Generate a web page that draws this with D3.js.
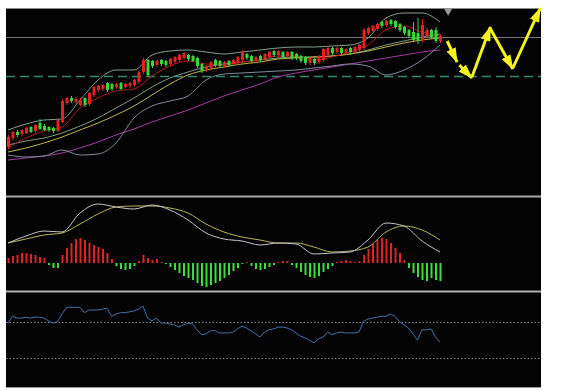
<!DOCTYPE html>
<html>
<head>
<meta charset="utf-8">
<title>K-line</title>
<style>
  body { margin: 0; background: #fff; }
  svg { display: block; }
</style>
</head>
<body>
<script src="https://cdn.jsdelivr.net/npm/d3@7"></script>
<script>
// daily candles (price units)
var opens  = [1229,1238,1244,1242,1243,1249,1245,1253,1250,1249,1248,1245,1254,1273,1278,1274,1271,1278,1272,1281,
              1286,1287,1293,1292,1289,1293,1289,1290,1291,1294,1304,1316,1315,1311,1316,1315,1312,1314,1316,1318,
              1321,1320,1318,1312,1306,1308,1316,1315,1310,1315,1312,1313,1316,1322,1320,1315,1320,1317,1319,1325,
              1321,1324,1320,1324,1322,1320,1319,1313,1317,1314,1316,1321,1328,1324,1328,1323,1328,1324,1326,1328,
              1343,1345,1347,1354,1351,1356,1355,1352,1349,1346,1344,1343,1336,1340,1346,1346,1335];
var closes = [1239,1244,1241,1246,1248,1244,1251,1247,1246,1246,1245,1256,1275,1278,1275,1277,1276,1271,1283,1289,
              1290,1291,1286,1287,1292,1287,1292,1293,1296,1304,1316,1301,1310,1315,1312,1311,1317,1319,1321,1323,
              1317,1315,1310,1305,1310,1314,1311,1310,1314,1311,1316,1319,1324,1318,1315,1319,1316,1322,1324,1321,
              1325,1319,1324,1318,1318,1315,1313,1318,1313,1320,1327,1328,1323,1328,1323,1327,1324,1329,1331,1346,
              1348,1350,1352,1350,1355,1352,1349,1346,1343,1340,1336,1335,1351,1346,1339,1335,1340];
var highs  = [1241,1245,1246,1247,1249,1250,1252,1257,1252,1250,1249,1257,1277,1279,1280,1279,1278,1279,1284,1290,
              1291,1292,1294,1293,1293,1294,1293,1294,1297,1305,1318,1317,1316,1316,1317,1316,1318,1320,1322,1324,
              1322,1321,1319,1313,1311,1315,1317,1316,1315,1316,1317,1320,1326,1323,1321,1320,1321,1323,1325,1326,
              1326,1325,1325,1325,1323,1321,1320,1319,1318,1321,1328,1329,1329,1329,1329,1328,1329,1330,1332,1348,
              1349,1351,1353,1355,1356,1357,1356,1353,1350,1347,1354,1358,1357,1348,1347,1349,1342];
var lows   = [1227,1236,1239,1240,1242,1243,1243,1246,1245,1244,1243,1244,1253,1271,1273,1272,1270,1269,1270,1279,
              1284,1285,1284,1285,1287,1286,1288,1288,1289,1292,1302,1299,1308,1309,1310,1309,1310,1312,1314,1316,
              1315,1314,1308,1303,1304,1306,1309,1308,1308,1309,1310,1311,1314,1316,1313,1313,1314,1315,1318,1319,
              1319,1318,1318,1316,1316,1313,1311,1311,1311,1312,1314,1319,1321,1322,1321,1321,1322,1322,1324,1326,
              1341,1343,1345,1348,1349,1350,1347,1344,1341,1338,1334,1332,1334,1338,1337,1333,1333];

// overlay lines, read every 4th candle
var maRed   = [1228,1238,1245,1249,1268,1278,1285,1287,1300,1310,1315,1312,1311,1314,1316,1320,1320,1316,1319,1324,1331,1346,1350,1344,1340];
var bollUp  = [1246,1252,1256,1257,1276,1296,1306,1306,1321,1325,1326,1324,1322,1324,1326,1328,1329,1329,1330,1331,1338,1358,1363,1363,1354];
var bollMid = [1231,1235,1238,1243,1250,1258,1268,1278,1289,1298,1304,1309,1312,1314,1316,1318,1319,1319,1320,1322,1326,1331,1335,1339,1342];
var bollLow = [1221,1219,1220,1226,1221,1222,1233,1258,1270,1275,1280,1296,1302,1303,1304,1305,1306,1308,1310,1312,1310,1301,1306,1316,1331];
var maYel   = [1224,1228,1233,1239,1246,1253,1261,1270,1281,1292,1301,1306,1309,1312,1314,1317,1318,1319,1320,1322,1325,1329,1333,1336,1338];
var maLong  = [1216,1218,1220,1223,1228,1234,1241,1247,1254,1260,1266,1273,1280,1286,1292,1299,1303,1306,1309,1312,1315,1318,1321,1324,1326];

var resistance = 1339, support = 1300;

// projected path: [candle index, price]
var forecast = [
  [[97.6,1335],[99.8,1314]],
  [[100.3,1311],[103.1,1298]],
  [[103.1,1299],[107.2,1349]],
  [[107.1,1348],[112.2,1307]],
  [[112.2,1308],[118.3,1368]]
];

// MACD
var macdHist = [5,7,8,10,10,9,8,6,5,-2,-5,-5,8,15,20,24,25,23,20,18,16,14,10,4,-3,-6,-7,-6,-3,2,
                8,5,3,4,1,-1,-4,-7,-10,-13,-15,-17,-20,-23,-24,-22,-20,-18,-15,-12,-8,-5,-1,1,-3,-6,-7,-6,-4,-2,
                1,2,2,-2,-5,-9,-12,-14,-15,-13,-9,-6,-3,1,2,3,2,1,2,8,14,19,23,25,24,20,15,10,3,-5,
                -10,-14,-17,-18,-15,-17,-18];
var macdDif = [20,27,32,31,50,59,56,54,58,53,43,30,24,22,18,20,19,9,10,11,23,40,37,22,11];
var macdDea = [20,24,28,30,39,49,56,57,57,55,50,39,31,26,23,20,20,16,11,12,16,31,37,33,23];

// RSI
var rsi = [68.5,76,74,74,75,74,75,75,74,71,68.5,70,78.5,86,86,86,86,80,83,83,
           83,84,85,76,78.5,80,80,81,82,84,87.5,74,71,74,68.5,68.5,67.5,66.5,64,66.5,
           68.5,67.5,61,55.5,56.5,60,60,57.5,57.5,57.5,58.5,62,65,63,60,56.5,53,58.5,61,62,
           64,64,63,61,57.5,54,52,49.5,46.5,51,53,58.5,55.5,57.5,58.5,57.5,57.5,57.5,58.5,70.5,
           73,74,75,76,76,78.5,76,70,66.5,63,56.5,49.5,61,61,62,53,47.5];
var rsiLevels = [70, 30];

var W = 561, H = 391;
var svg = d3.select("body").append("svg").attr("width", W).attr("height", H);

var defs = svg.append("defs");
defs.append("marker")
    .attr("id", "head")
    .attr("markerUnits", "userSpaceOnUse")
    .attr("markerWidth", 15).attr("markerHeight", 10)
    .attr("refX", 14).attr("refY", 5)
    .attr("orient", "auto")
  .append("path")
    .attr("d", "M0,0L15,5L0,10Z")
    .attr("fill", "#f4f41c");

// frame
svg.append("rect").attr("x", 6).attr("y", 8).attr("width", 535).attr("height", 380).attr("fill", "#030303");

var x = d3.scaleLinear().domain([0, 96]).range([8, 440]);
var y = d3.scaleLinear().domain([1180, 1368]).range([196, 8]);
var yM = d3.scaleLinear().domain([-28, 66]).range([291, 197]);
var yR = d3.scaleLinear().domain([0, 100]).range([384.7, 294.7]);

var sampled = d3.range(0, 97, 4);

function hline(yy, color, w, dash) {
  svg.append("line").attr("x1", 6).attr("x2", 541).attr("y1", yy).attr("y2", yy)
     .attr("stroke", color).attr("stroke-width", w).attr("stroke-dasharray", dash || null);
}

// panel borders
hline(8.5, "#8a8a8a", 1);
hline(196.5, "#a8a8a8", 2);
hline(291.5, "#b0b0b0", 2);
hline(387.5, "#9a9a9a", 1);

// reference levels
hline(Math.round(y(resistance)) + 0.5, "#7a7a7a", 1);
hline(Math.round(y(support)) + 0.5, "#2f8a6e", 1.3, "9,5");

// overlay lines
var lineS = d3.line().x((d, i) => x(sampled[i])).y(d => y(d)).curve(d3.curveMonotoneX);
[[maLong, "#a63ca6"], [bollLow, "#7f8d9c"], [bollUp, "#84a08a"], [bollMid, "#7e9a80"],
 [maYel, "#bdb64a"], [maRed, "#b01c1c"]].forEach(function(s) {
  svg.append("path").attr("d", lineS(s[0])).attr("fill", "none")
     .attr("stroke", s[1]).attr("stroke-width", 1);
});

// candles
var candles = svg.append("g").selectAll("g").data(opens).join("g");
candles.append("line")
    .attr("x1", (d, i) => x(i) + 0.5).attr("x2", (d, i) => x(i) + 0.5)
    .attr("y1", (d, i) => y(highs[i])).attr("y2", (d, i) => y(lows[i]))
    .attr("stroke", (d, i) => closes[i] >= d ? "#e52222" : "#35d835").attr("stroke-width", 1);
candles.append("rect")
    .attr("x", (d, i) => x(i) - 1)
    .attr("width", 3)
    .attr("y", (d, i) => y(Math.max(d, closes[i])))
    .attr("height", (d, i) => Math.max(1, Math.abs(y(d) - y(closes[i]))))
    .attr("fill", (d, i) => closes[i] >= d ? "#e52222" : "#35d835");

// marker triangle on the last bar
svg.append("path")
    .attr("d", d3.symbol().type(d3.symbolTriangle).size(30)())
    .attr("transform", "translate(" + x(97.8) + ",11) rotate(180)")
    .attr("fill", "#9a9a9a");

// forecast arrows
svg.append("g").selectAll("path").data(forecast).join("path")
    .attr("d", d => "M" + x(d[0][0]) + "," + y(d[0][1]) + "L" + x(d[1][0]) + "," + y(d[1][1]))
    .attr("stroke", "#f4f41c").attr("stroke-width", 3)
    .attr("marker-end", "url(#head)");

// MACD
svg.append("g").selectAll("rect").data(macdHist).join("rect")
    .attr("x", (d, i) => x(i) - 0.5)
    .attr("width", 2)
    .attr("y", d => Math.min(yM(d), yM(0)))
    .attr("height", d => Math.abs(yM(d) - yM(0)))
    .attr("fill", d => d >= 0 ? "#e02222" : "#38e038");
var lineM = d3.line().x((d, i) => x(sampled[i])).y(d => yM(d)).curve(d3.curveMonotoneX);
svg.append("path").attr("d", lineM(macdDea)).attr("fill", "none").attr("stroke", "#b8b45a").attr("stroke-width", 1);
svg.append("path").attr("d", lineM(macdDif)).attr("fill", "none").attr("stroke", "#c4c4cc").attr("stroke-width", 1);

// RSI
rsiLevels.forEach(v => hline(Math.round(yR(v)) + 0.5, "#8a8a8a", 1, "1.5,2"));
svg.append("path")
    .attr("d", d3.line().x((d, i) => x(i)).y(d => yR(d))(rsi))
    .attr("fill", "none").attr("stroke", "#4272a8").attr("stroke-width", 1);
</script>
</body>
</html>
